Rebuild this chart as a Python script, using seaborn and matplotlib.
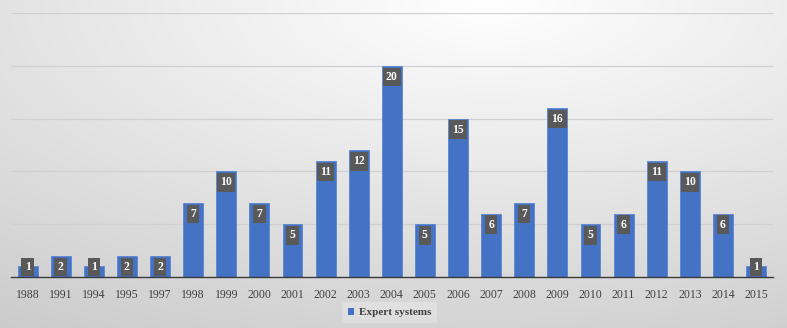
import numpy as np
import pandas as pd
import matplotlib
matplotlib.use("Agg")
import matplotlib.pyplot as plt
import seaborn as sns
from matplotlib.patches import Patch

years = ["1988", "1991", "1994", "1995", "1997", "1998", "1999", "2000", "2001", "2002",
         "2003", "2004", "2005", "2006", "2007", "2008", "2009", "2010", "2011", "2012",
         "2013", "2014", "2015"]
counts = [1, 2, 1, 2, 2, 7, 10, 7, 5, 11, 12, 20, 5, 15, 6, 7, 16, 5, 6, 11, 10, 6, 1]
series_name = "Expert systems"

df = pd.DataFrame({"year": years, "count": counts})

sns.set_theme(style="white")
plt.rcParams["font.family"] = ["Liberation Serif", "DejaVu Serif"]

fig = plt.figure(figsize=(7.87, 3.28), dpi=100)

# background gradient
bg = fig.add_axes([0, 0, 1, 1], zorder=-10)
h, w = 328, 787
yy, xx = np.mgrid[0:h, 0:w]
dx = (xx - w * 0.62) / w
dy = (yy - 0) / h
d = np.sqrt((dx * 0.9) ** 2 + (dy * 0.85) ** 2)
val = np.clip(1.0 - 0.2 * d, 0.78, 1.0)
img = np.dstack([val, val, val])
bg.imshow(img, aspect="auto", extent=[0, 1, 0, 1])
bg.set_axis_off()

ax = fig.add_axes([0.014, 0.1555, 0.9677, 0.8049])
ax.patch.set_alpha(0)
sns.barplot(data=df, x="year", y="count", color="#4472C4", width=0.6,
            saturation=1, ax=ax, zorder=3, edgecolor="#5b85d0", linewidth=0.6)
ax.set_ylim(0, 25)
ax.set_xlim(-0.5, len(years) - 0.5)
ax.set_yticks([5, 10, 15, 20, 25])
ax.yaxis.grid(True, color="#d0d0d0", linewidth=0.9, zorder=0)
ax.set_axisbelow(True)
ax.tick_params(axis="y", left=False, labelleft=False)
ax.tick_params(axis="x", bottom=False, labelsize=8.5, labelcolor="#404040", pad=3)
ax.set_xlabel("")
ax.set_ylabel("")
for s in ["top", "right", "left"]:
    ax.spines[s].set_visible(False)
ax.spines["bottom"].set_color("#3a3a3a")
ax.spines["bottom"].set_linewidth(1.0)
ax.spines["bottom"].set_zorder(5)

for bar, v in zip(ax.patches, counts):
    xc = bar.get_x() + bar.get_width() / 2
    ypos = max(v - 1.05, 0.95)
    ax.text(xc, ypos, str(v), ha="center", va="center", fontsize=8.5,
            fontweight="bold", color="white", zorder=6,
            bbox=dict(boxstyle="square,pad=0.28", facecolor="#595959",
                      edgecolor="none"))

handles = [Patch(facecolor="#4472C4", edgecolor="none", label=series_name)]
leg = fig.legend(handles=handles, loc="center", bbox_to_anchor=(0.495, 0.047),
                 frameon=True, fontsize=8, handlelength=0.6, handleheight=0.6,
                 handletextpad=0.4, borderpad=0.5)
leg.get_frame().set_facecolor("white")
leg.get_frame().set_alpha(0.25)
leg.get_frame().set_edgecolor("none")
for t in leg.get_texts():
    t.set_fontweight("bold")
    t.set_color("#404040")

fig.savefig("out.png", dpi=100)
